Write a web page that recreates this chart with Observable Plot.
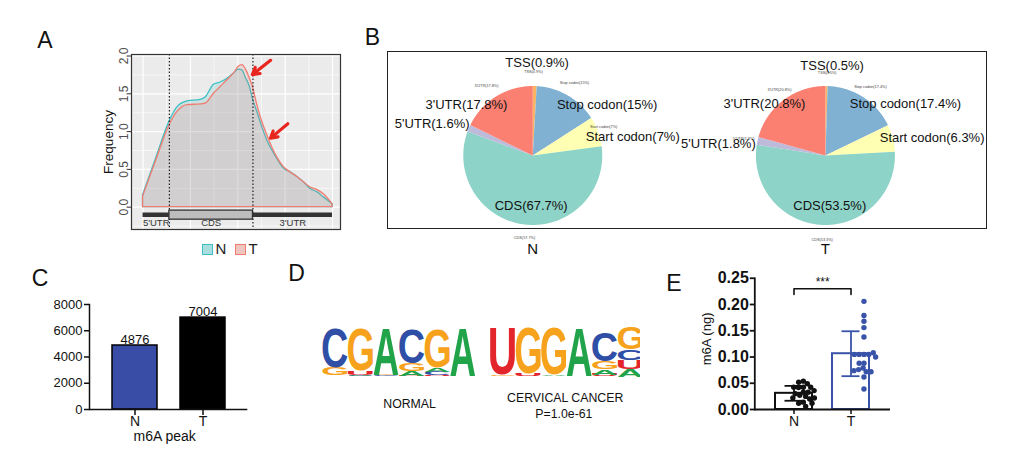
<!DOCTYPE html>
<html><head><meta charset="utf-8">
<script src="https://cdn.jsdelivr.net/npm/d3@7"></script>
<script src="https://cdn.jsdelivr.net/npm/@observablehq/plot@0.6"></script>
<style>
body{margin:0;background:#fff;}
#fig{position:relative;width:1019px;height:452px;overflow:hidden;font-family:"Liberation Sans",Arial,Helvetica,sans-serif;color:#111;}
.plab{position:absolute;font-size:23px;line-height:1;transform:translate(-50%,-50%);}
</style></head><body><div id="fig"></div>
<script>
// ---------------- DATA ----------------
const groups = ["N", "T"];
// Panel A: metagene profile (relative transcript position 0..1)
const profileX = [0,0.07,0.139,0.181,0.234,0.304,0.330,0.374,0.409,0.445,0.480,0.506,0.524,0.541,0.564,0.580,0.603,0.629,0.656,0.682,0.708,0.743,0.779,0.814,0.849,0.884,0.919,0.954,1];
const profileN = [0.16,0.65,1.13,1.32,1.40,1.42,1.45,1.62,1.65,1.70,1.77,1.82,1.81,1.72,1.59,1.43,1.26,1.06,0.88,0.75,0.64,0.51,0.46,0.40,0.33,0.24,0.20,0.13,0.04];
const profileT = [0.14,0.62,1.08,1.26,1.35,1.36,1.37,1.50,1.59,1.68,1.77,1.86,1.88,1.83,1.70,1.59,1.35,1.13,0.95,0.79,0.66,0.53,0.46,0.40,0.33,0.26,0.23,0.17,0.04];
const regionNames = ["5'UTR", "CDS", "3'UTR"];
const regionBreaks = [0, 0.139, 0.58, 1];
const freqTicks = [0, 0.5, 1, 1.5, 2];
// Panel B: peak distribution
const pieParts = ["TSS", "Stop codon", "Start codon", "CDS", "5'UTR", "3'UTR"];
const pieColors = ["#FDB462", "#80B1D3", "#FFFFB3", "#8DD3C7", "#BEBADA", "#FB8072"];
const pieN = [0.9, 15, 7, 57.7, 1.6, 17.8];
const pieT = [0.5, 17.4, 6.3, 53.5, 1.8, 20.8];
const bigLabelsN = ["TSS(0.9%)", "Stop codon(15%)", "Start codon(7%)", "CDS(67.7%)", "5'UTR(1.6%)", "3'UTR(17.8%)"];
const bigLabelsT = ["TSS(0.5%)", "Stop codon(17.4%)", "Start codon(6.3%)", "CDS(53.5%)", "5'UTR(1.8%)", "3'UTR(20.8%)"];
const smallLabelsN = ["TSS(0.9%)", "Stop codon(15%)", "Start codon(7%)", "CDS(57.7%)", null, "3'UTR(17.8%)"];
const smallLabelsT = ["TSS(0.5%)", "Stop codon(17.4%)", null, "CDS(53.3%)", "5'UTR(1.8%)", "3'UTR(20.8%)"];
// Panel C: peak counts
const peakCounts = [4876, 7004];
const peakTicks = [0, 2000, 4000, 6000, 8000];
// Panel D: motif logos (bits per letter A, C, G, U at each position)
const logoAlphabet = ["A", "C", "G", "U"];
const logoColors = ["#21A34A", "#2F4EA6", "#F7A21C", "#E3262B"];
const normalBits = [[0.02,1.64,0.33,0.02],[0.04,0.03,1.72,0.17],[1.92,0.03,0.03,0.02],[0.19,1.41,0.32,0.03],[0.17,0.14,1.59,0.05],[1.97,0.01,0.01,0.01]];
const cancerBits = [[0.02,0.01,0.03,1.95],[0.02,0.01,1.89,0.10],[0.06,0.01,1.94,0.02],[2.00,0.01,0.01,0.01],[0.23,1.17,0.30,0.08],[0.30,0.44,0.90,0.39]];
const motifNames = ["NORMAL", "CERVICAL CANCER"];
const motifPvalue = ["", "P=1.0e-61"];
// Panel E: m6A quantification (ng)
const m6aN = [0.054,0.052,0.049,0.0425,0.042,0.0425,0.0425,0.033,0.027,0.033,0.030,0.025,0.020,0.022,0.022,0.014,0.012,0.012,0.006,0.036];
const m6aT = [0.206,0.179,0.168,0.156,0.138,0.105,0.105,0.105,0.105,0.108,0.100,0.088,0.088,0.079,0.072,0.076,0.072,0.074,0.062,0.039];
const m6aTicks = [0, 0.05, 0.10, 0.15, 0.20, 0.25];
const sigLabel = "***";

// ---------------- LAYOUT ----------------
const FONT = "Liberation Sans, Arial, Helvetica, sans-serif";
const baseStyle = {fontFamily: FONT, background: "transparent", maxWidth: "none", overflow: "visible", color: "#111"};
const fig = document.getElementById("fig");
function place(node, left, top, w, h, clip) {
  const d = document.createElement("div");
  d.style.cssText = `position:absolute;left:${left}px;top:${top}px;width:${w}px;height:${h}px;${clip ? "overflow:hidden;" : ""}`;
  d.appendChild(node); fig.appendChild(d); return d;
}
function label(t, x, y) {
  const d = document.createElement("div"); d.className = "plab"; d.textContent = t;
  d.style.left = x + "px"; d.style.top = y + "px"; fig.appendChild(d);
}

// ---------------- PANEL A ----------------
const profData = groups.flatMap(g => profileX.map((x, i) => ({g, x, y: (g === "N" ? profileN : profileT)[i]})));
const trackY = -0.10;
const track = [{x1: regionBreaks[0], x2: regionBreaks[3], y: trackY}];
const cds = [{x1: regionBreaks[1], x2: regionBreaks[2], y1: trackY - 0.065, y2: trackY + 0.055}];
const regionLab = regionNames.map((n, i) => ({n, x: (regionBreaks[i] + regionBreaks[i + 1]) / 2, y: trackY - 0.115}));
const arrows = [{x1: 0.673, y1: 1.943, x2: 0.577, y2: 1.754}, {x1: 0.764, y1: 1.105, x2: 0.673, y2: 0.914}];
const plotA = Plot.plot({
  width: 350, height: 240, marginLeft: 131, marginRight: 10, marginTop: 54, marginBottom: 11,
  style: baseStyle,
  x: {domain: [-0.061, 1.042], axis: null},
  y: {domain: [-0.295, 2.02]},
  color: {domain: groups, range: ["#3DBFC3", "#F07C72"]},
  marks: [
    Plot.frame({fill: "#EBEBEB"}),
    Plot.gridY([-0.25, 0.25, 0.75, 1.25, 1.75], {stroke: "white", strokeOpacity: 1, strokeWidth: 0.6}),
    Plot.gridX([0.125, 0.375, 0.625, 0.875], {stroke: "white", strokeOpacity: 1, strokeWidth: 0.6}),
    Plot.gridY(freqTicks, {stroke: "white", strokeOpacity: 1, strokeWidth: 1.2}),
    Plot.gridX([0, 0.25, 0.5, 0.75, 1], {stroke: "white", strokeOpacity: 1, strokeWidth: 1.2}),
    Plot.area(profData, {x1: "x", y1: () => 0, y2: "y", z: "g", fill: "g", fillOpacity: 0.18, stroke: "g", strokeWidth: 1.3, curve: "monotone-x"}),
    Plot.ruleX(regionBreaks.slice(1, 3), {stroke: "#222", strokeWidth: 1.2, strokeDasharray: "1.5,2"}),
    Plot.ruleY(track, {x1: "x1", x2: "x2", y: "y", stroke: "#333", strokeWidth: 4.5}),
    Plot.rect(cds, {x1: "x1", x2: "x2", y1: "y1", y2: "y2", fill: "#BDBDBD", stroke: "#333", strokeWidth: 1.3}),
    Plot.text(regionLab, {x: "x", y: "y", text: "n", fontSize: 9.5, fill: "#333"}),
    Plot.arrow(arrows, {x1: "x1", y1: "y1", x2: "x2", y2: "y2", stroke: "#E8261F", strokeWidth: 3.2, headLength: 9}),
    Plot.frame({stroke: "#333", strokeWidth: 1.2}),
    Plot.axisY({ticks: freqTicks, tickSize: 3.5, tickFormat: () => "", stroke: "#333", label: null}),
    Plot.text(freqTicks, {y: d => d, text: d => d.toFixed(1), frameAnchor: "left", dx: -3.5, rotate: -90, lineAnchor: "bottom", textAnchor: "middle", fontSize: 12, fill: "#4D4D4D"}),
    Plot.text(["Frequency"], {frameAnchor: "left", dx: -23, rotate: -90, textAnchor: "middle", lineAnchor: "middle", fontSize: 13.5, fill: "#111"})
  ]
});
place(plotA, 0, 0, 350, 240);
// legend for A
const legCols = {N: ["#3DBFC3", "#A9DEDF"], T: ["#F07C72", "#EFC5C0"]};
[["N", 201.7, 215.5], ["T", 235, 248.5]].forEach(([g, bx, tx]) => {
  const b = document.createElement("div");
  b.style.cssText = `position:absolute;left:${bx}px;top:244px;width:9px;height:9px;border:1.3px solid ${legCols[g][0]};background:${legCols[g][1]};`;
  fig.appendChild(b);
  const t = document.createElement("div");
  t.style.cssText = `position:absolute;left:${tx}px;top:241px;font-size:15px;line-height:15px;color:#222;`;
  t.textContent = g; fig.appendChild(t);
});

// ---------------- PANEL B ----------------
const pieCenters = {N: 0, T: 4.211};
function slicePts(vals, key) {
  const arcs = d3.pie().sort(null).value(d => d)(vals);
  const cx = pieCenters[key];
  const pts = [];
  arcs.forEach((a, i) => {
    const n = Math.max(2, Math.ceil((a.endAngle - a.startAngle) / 0.01));
    pts.push({z: key + i, part: pieParts[i], x: cx, y: 0});
    for (let k = 0; k <= n; k++) {
      const t = a.startAngle + (a.endAngle - a.startAngle) * k / n;
      pts.push({z: key + i, part: pieParts[i], x: cx + Math.sin(t), y: Math.cos(t)});
    }
  });
  return pts;
}
const slices = [...slicePts(pieN, "N"), ...slicePts(pieT, "T")];
// label offsets in pie-radius units, relative to each pie centre
const bigOffN = [[0.063,1.328],[1.07,0.734],[1.439,0.263],[-0.023,-0.719],[-1.447,0.456],[-0.954,0.734]];
const bigOffT = [[0.096,1.295],[1.151,0.744],[1.535,0.255],[0.062,-0.719],[-1.54,0.168],[-0.878,0.744]];
const smallOffN = [[0.010,1.209],[0.600,1.040],[1.020,0.417],[-0.119,-1.184],null,[-0.666,1.004]];
const smallOffT = [[0.024,1.190],[0.647,0.993],null,[-0.047,-1.213],[-1.176,0.245],[-0.662,0.945]];
function labs(texts, offs, key) {
  return texts.map((t, i) => (t && offs[i]) ? {t, x: pieCenters[key] + offs[i][0], y: offs[i][1]} : null).filter(Boolean);
}
const bigLabs = [...labs(bigLabelsN, bigOffN, "N"), ...labs(bigLabelsT, bigOffT, "T")];
const smallLabs = [...labs(smallLabelsN, smallOffN, "N"), ...labs(smallLabelsT, smallOffT, "T")];
const plotB = Plot.plot({
  width: 620, height: 240, marginLeft: 0, marginRight: 0, marginTop: 0, marginBottom: 0,
  style: baseStyle,
  x: {domain: [-2.191, 6.730], axis: null},
  y: {domain: [-1.871, 1.583], axis: null},
  color: {domain: pieParts, range: pieColors},
  marks: [
    Plot.line(slices, {x: "x", y: "y", z: "z", fill: "part", stroke: null, curve: "linear-closed"}),
    Plot.text(smallLabs, {x: "x", y: "y", text: "t", fontSize: 3.8, fill: "#444"}),
    Plot.text(bigLabs, {x: "x", y: "y", text: "t", fontSize: 13, fill: "#111"}),
    Plot.text(groups, {x: d => pieCenters[d], y: () => -1.353, text: d => d, fontSize: 15, fill: "#111"})
  ]
});
place(plotB, 380, 45, 620, 240);
const boxB = document.createElement("div");
boxB.style.cssText = "position:absolute;left:387px;top:51px;width:598px;height:176px;border:1.6px solid #222;pointer-events:none;";
fig.appendChild(boxB);

// ---------------- PANEL C ----------------
const cData = groups.map((g, i) => ({g, n: peakCounts[i]}));
const plotC = Plot.plot({
  width: 260, height: 172, marginLeft: 89, marginRight: 12.7, marginTop: 24, marginBottom: 43,
  style: baseStyle,
  x: {domain: groups, paddingInner: 0.34, paddingOuter: 0.33},
  y: {domain: [0, 8000]},
  color: {domain: groups, range: ["#3A4DA6", "#000000"]},
  marks: [
    Plot.barY(cData, {x: "g", y: "n", fill: "g", stroke: "#000", strokeWidth: 1.5}),
    Plot.text(cData, {x: "g", y: "n", text: d => String(d.n), lineAnchor: "bottom", dy: -1.5, fontSize: 13}),
    Plot.ruleY([0], {strokeWidth: 1.5}),
    Plot.frame({anchor: "left", strokeWidth: 1.5}),
    Plot.axisY({ticks: peakTicks, tickFormat: "d", tickSize: 5, tickPadding: 2, fontSize: 13, strokeWidth: 1.5, label: null}),
    Plot.axisX({tickSize: 6, tickPadding: 1, fontSize: 14, strokeWidth: 1.5, label: null}),
    Plot.text(["m6A peak"], {frameAnchor: "bottom", lineAnchor: "middle", dy: 26.7, dx: -4, fontSize: 14})
  ]
});
place(plotC, 0, 280, 260, 172);

// ---------------- PANEL D ----------------
const gapCols = 0.56;
const motifStart = [0, 6 + gapCols];
const letters = [];
[normalBits, cancerBits].forEach((mat, m) => {
  mat.forEach((bits, p) => {
    const order = d3.range(4).sort((a, b) => bits[a] - bits[b]);
    let y = 0;
    order.forEach(k => {
      letters.push({letter: logoAlphabet[k], x1: motifStart[m] + p, x2: motifStart[m] + p + 1, y1: y, y2: y + bits[k]});
      y += bits[k];
    });
  });
});
const motifLabX = [3.42, 2.95];
const plotD = Plot.plot({
  width: 340, height: 130, marginLeft: 0, marginRight: 0, marginTop: 0, marginBottom: 0,
  style: baseStyle,
  x: {domain: [-0.849, 12.458], axis: null},
  y: {domain: [-2.236, 3.147], axis: null},
  color: {domain: logoAlphabet, range: logoColors},
  marks: [
    Plot.text(letters, {x: d => (d.x1 + d.x2) / 2, y: "y1", text: "letter", fill: "letter", fontSize: 100, fontWeight: "bold"}),
    Plot.text(motifNames, {x: (d, i) => motifStart[i] + motifLabX[i], y: (d, i) => i ? -0.882 : -1.13, text: d => d, fontSize: 12.3, fill: "#111"}),
    Plot.text(motifPvalue, {x: (d, i) => motifStart[i] + motifLabX[i] - 0.05, y: () => -1.545, text: d => d, fontSize: 12.3, fill: "#111"})
  ]
});
(function stretchLetters() {
  const sx = plotD.scale("x"), sy = plotD.scale("y");
  const ctx = document.createElement("canvas").getContext("2d");
  ctx.font = 'bold 100px "Liberation Sans"';
  const g = plotD.querySelector('g[aria-label="text"]');
  const texts = g.querySelectorAll("text");
  letters.forEach((d, i) => {
    const el = texts[i]; if (!el) return;
    const m = ctx.measureText(d.letter);
    const iw = m.actualBoundingBoxLeft + m.actualBoundingBoxRight;
    const ih = m.actualBoundingBoxAscent + m.actualBoundingBoxDescent;
    const px1 = sx.apply(d.x1) + 0.3, px2 = sx.apply(d.x2) - 0.3;
    const pyTop = sy.apply(d.y2), pyBot = sy.apply(d.y1);
    const h = Math.max(0.35, pyBot - pyTop);
    el.removeAttribute("x"); el.removeAttribute("y");
    el.setAttribute("dy", "0");
    el.setAttribute("text-anchor", "start");
    el.setAttribute("font-size", "100");
    el.setAttribute("font-weight", "bold");
    el.setAttribute("font-family", "Liberation Sans");
    el.setAttribute("transform", `translate(${px1},${pyBot - h}) scale(${(px2 - px1) / iw},${h / ih}) translate(${m.actualBoundingBoxLeft},${m.actualBoundingBoxAscent})`);
  });
})();
place(plotD, 300, 300, 340, 130, true);

// ---------------- PANEL E ----------------
const eVals = [m6aN, m6aT];
const eStats = groups.map((g, i) => ({g, mean: d3.mean(eVals[i]), sd: d3.deviation(eVals[i])}));
const eWidth = 220, eML = 64.3, eMR = 20, ePad = 0.355;
const eStep = (eWidth - eML - eMR) / (2 - ePad + 2 * ePad);
const sigY = 0.230;
const bracket = [{g: "N", y: sigY - 0.011}, {g: "N", y: sigY}, {g: "T", y: sigY}, {g: "T", y: sigY - 0.011}];
const eColors = ["#111111", "#3953A8"];
const plotE = Plot.plot({
  width: eWidth, height: 182, marginLeft: eML, marginRight: eMR, marginTop: 7.75, marginBottom: 43,
  style: baseStyle,
  x: {domain: groups, paddingInner: ePad, paddingOuter: ePad},
  y: {domain: [0, 0.25]},
  color: {domain: groups, range: eColors},
  marks: [
    Plot.barY(eStats, {x: "g", y: "mean", fill: "white", stroke: "g", strokeWidth: 2}),
    Plot.ruleX(eStats, {x: "g", y1: d => d.mean - d.sd, y2: d => d.mean + d.sd, stroke: "g", strokeWidth: 1.8}),
    Plot.tickY(eStats, {x: "g", y: d => d.mean + d.sd, stroke: "g", strokeWidth: 1.8, inset: 9.5}),
    Plot.tickY(eStats, {x: "g", y: d => d.mean - d.sd, stroke: "g", strokeWidth: 1.8, inset: 9.5}),
    Plot.dot(m6aN, Plot.dodgeX({anchor: "middle", padding: -0.6}, {y: d => d, r: 2.7, fill: eColors[0], dx: -eStep / 2 - 9})),
    Plot.dot(m6aT, Plot.dodgeX({anchor: "middle", padding: -0.6}, {y: d => d, r: 2.7, fill: eColors[1], dx: eStep / 2 - 6})),
    Plot.line(bracket, {x: "g", y: "y", stroke: "#111", strokeWidth: 1.6}),
    Plot.text([sigLabel], {y: () => sigY, text: d => d, dy: -7, fontSize: 12, fill: "#111"}),
    Plot.ruleY([0], {strokeWidth: 1.8}),
    Plot.frame({anchor: "left", strokeWidth: 1.8}),
    Plot.axisY({ticks: m6aTicks, tickFormat: ".2f", tickSize: 4.5, tickPadding: 1.5, fontSize: 16, fontWeight: "bold", strokeWidth: 1.8, label: null}),
    Plot.axisX({tickSize: 5, tickPadding: 2, fontSize: 14, strokeWidth: 1.5, label: null}),
    Plot.text(["m6A (ng)"], {frameAnchor: "left", rotate: -90, dx: -47.6, dy: -5, textAnchor: "middle", lineAnchor: "middle", fontSize: 13})
  ]
});
place(plotE, 690, 270, eWidth, 182);

// panel letters
label("A", 45, 40); label("B", 372.5, 36.5); label("C", 40, 278); label("D", 296.5, 273); label("E", 674, 283);
</script></body></html>
